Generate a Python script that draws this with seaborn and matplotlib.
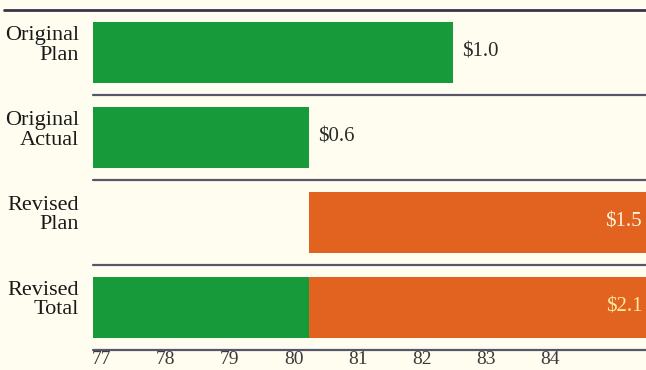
import matplotlib
matplotlib.use("Agg")
import matplotlib.pyplot as plt
import matplotlib.transforms as mtransforms
import seaborn as sns
import pandas as pd
import numpy as np

# Rows of the schedule chart
categories = ["Original\nPlan", "Original\nActual", "Revised\nPlan", "Revised\nTotal"]
# Timeline spans (fiscal years): green segment end, orange segment start/end
green_start = [77.0, 77.0, np.nan, 77.0]
green_end = [82.6, 80.35, np.nan, 80.35]
orange_start = [np.nan, np.nan, 80.35, 80.35]
orange_end = [np.nan, np.nan, 86.0, 86.0]
# Cost labels ($ billions)
costs = [1.0, 0.6, 1.5, 2.1]
year_ticks = [77, 78, 79, 80, 81, 82, 83, 84]

BG = "#fffdf0"
GREEN = "#179b3a"
ORANGE = "#e2631f"
RULE = "#55566a"

sns.set_theme(style="white", rc={"axes.facecolor": BG, "figure.facecolor": BG})
plt.rcParams["font.family"] = ["Liberation Serif", "DejaVu Serif"]

fig = plt.figure(figsize=(6.46, 3.70), dpi=100)
W, H = 646, 370
ax = fig.add_axes([93 / W, 1 - 349.5 / H, (646 - 93) / W, (349.5 - 10) / H])

df = pd.DataFrame({"row": categories, "gs": green_start, "ge": green_end,
                   "os": orange_start, "oe": orange_end, "cost": costs})

bar_h = 0.72
# green segments (bars start at the left limit of the timeline)
sns.barplot(data=df, x="ge", y="row", order=categories, orient="h",
            color=GREEN, saturation=1, width=bar_h, ax=ax, linewidth=0)
# orange segments float from their start year
pos = np.arange(len(categories))
mask = ~np.isnan(df["os"].values)
ax.barh(pos[mask], (df["oe"] - df["os"]).values[mask], left=df["os"].values[mask],
        height=bar_h, color=ORANGE, linewidth=0)

ax.set_xlim(76.97, 85.61)
ax.set_ylim(3.5, -0.5)

# row rules
for i, yb in enumerate([-0.5, 0.5, 1.5, 2.5, 3.5]):
    if i == 0:
        ax.axhline(yb, xmin=-89 / 553, xmax=1, color="#38344c", lw=2.0, clip_on=False)
    else:
        ax.axhline(yb, color=RULE, lw=1.6, clip_on=False)

# cost labels
for i, row in df.iterrows():
    txt = f"${row['cost']:.1f}"
    if np.isnan(row["os"]):
        ax.text(row["ge"] + 0.14, i, txt, va="center", ha="left",
                fontsize=15, color="#2a2a2a")
    else:
        col = "#fff3dc" if i == 2 else "#ffe9a0"
        ax.text(85.55, i, txt, va="center", ha="right", fontsize=15, color=col)

for s in ax.spines.values():
    s.set_visible(False)
ax.set_xlabel("")
ax.set_ylabel("")
ax.set_xticks(year_ticks)
ax.set_xticklabels([str(t) for t in year_ticks], ha="left")
ax.tick_params(axis="x", length=0, pad=1, labelsize=14, labelcolor="#3a3a3a")
shift = mtransforms.ScaledTranslation(-3 / 100, 0, fig.dpi_scale_trans)
for lab in ax.get_xticklabels():
    lab.set_transform(lab.get_transform() + shift)

ax.tick_params(axis="y", length=0, pad=10, labelsize=16, labelcolor="#1a1a1a")
lift = mtransforms.ScaledTranslation(0, 10 / 100, fig.dpi_scale_trans)
for lab in ax.get_yticklabels():
    lab.set_horizontalalignment("right")
    lab.set_linespacing(1.05)
    lab.set_transform(lab.get_transform() + lift)

fig.savefig("out.png", dpi=100, facecolor=BG)
